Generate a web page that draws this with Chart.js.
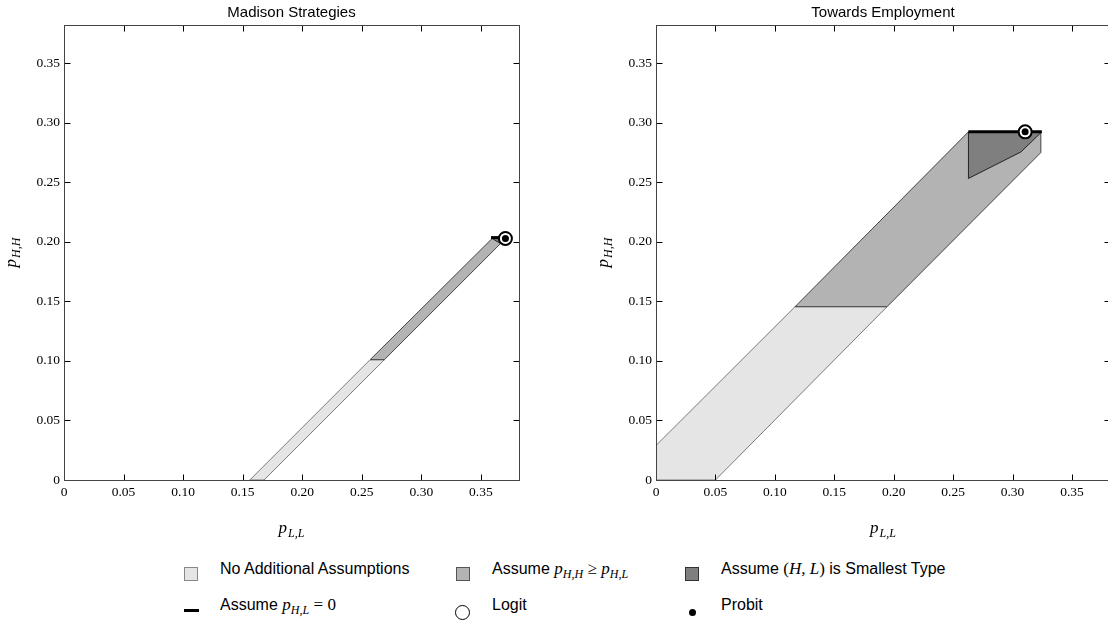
<!DOCTYPE html>
<html lang="en">
<head>
    <meta charset="UTF-8">
    <title>Madison Strategies / Towards Employment</title>
    <script src="https://cdn.jsdelivr.net/npm/chart.js"></script>
    <style>
        body { margin: 0; width: 1108px; height: 623px; overflow: hidden; background: #fff; position: relative; }
        canvas { position: absolute; top: 0; }
        #leftChart { left: 0; }
        #rightChart { left: 560px; }
        .lg { position: absolute; font-family: "Liberation Sans", Arial, sans-serif; font-size: 16px; color: #000; white-space: nowrap; line-height: 20px; }
        .m { font-family: "Liberation Serif", serif; font-style: italic; font-size: 17px; }
        .m sub { font-size: 12px; vertical-align: -4px; }
        .r { font-family: "Liberation Serif", serif; font-size: 17px; }
        .sw { position: absolute; width: 14px; height: 14px; box-sizing: border-box; border: 1px solid; }
    </style>
</head>
<body>
    <canvas id="leftChart" width="560" height="540"></canvas>
    <canvas id="rightChart" width="560" height="540"></canvas>

    <!-- legend -->
    <div class="sw" style="left:184px; top:567px; background:#e5e5e5; border-color:#888;"></div>
    <div class="lg" style="left:220px; top:559px;">No Additional Assumptions</div>
    <div class="sw" style="left:456px; top:567px; background:#b3b3b3; border-color:#555;"></div>
    <div class="lg" style="left:492px; top:559px;">Assume <span class="m">p<sub>H,H</sub></span> <span class="r">&ge;</span> <span class="m">p<sub>H,L</sub></span></div>
    <div class="sw" style="left:685px; top:567px; background:#7f7f7f; border-color:#333;"></div>
    <div class="lg" style="left:721px; top:559px;">Assume <span class="r">(</span><span class="m">H, L</span><span class="r">)</span> is Smallest Type</div>

    <div style="position:absolute; left:184px; top:609px; width:15px; height:3px; background:#000;"></div>
    <div class="lg" style="left:220px; top:595px;">Assume <span class="m">p<sub>H,L</sub></span> <span class="r">= 0</span></div>
    <div style="position:absolute; left:455px; top:605px; width:13px; height:13px; border:1.5px solid #000; border-radius:50%;"></div>
    <div class="lg" style="left:492px; top:595px;">Logit</div>
    <div style="position:absolute; left:689px; top:609px; width:7px; height:7px; background:#000; border-radius:50%;"></div>
    <div class="lg" style="left:721px; top:595px;">Probit</div>

    <script>
        // Axis ticks shared by both panels
        const tickValues = [0, 0.05, 0.10, 0.15, 0.20, 0.25, 0.30, 0.35];
        const tickLabels = ['0', '0.05', '0.10', '0.15', '0.20', '0.25', '0.30', '0.35'];
        const axisMax = 0.382;

        // Madison Strategies: identified sets (polygon vertices, p_LL and p_HH)
        const msNoAssumpX = [0.156, 0.168, 0.269, 0.257, 0.156];
        const msNoAssumpY = [0, 0, 0.101, 0.101, 0];
        const msMonoX = [0.257, 0.269, 0.3665, 0.3708, 0.3595, 0.257];
        const msMonoY = [0.101, 0.101, 0.1985, 0.2028, 0.2028, 0.101];
        const msSmallestX = [0.3595, 0.368, 0.3665, 0.3595];
        const msSmallestY = [0.2028, 0.2028, 0.1985, 0.2028];
        const msZeroX = [0.3585, 0.3675];
        const msZeroY = [0.2035, 0.2035];
        const msLogit = [0.3706, 0.2028];
        const msProbit = [0.3706, 0.2028];

        // Towards Employment
        const teNoAssumpX = [0, 0.05, 0.1944, 0.117, 0, 0];
        const teNoAssumpY = [0, 0, 0.1455, 0.1455, 0.029, 0];
        const teMonoX = [0.117, 0.1944, 0.3238, 0.3238, 0.2629, 0.117];
        const teMonoY = [0.1455, 0.1455, 0.2749, 0.2923, 0.2923, 0.1455];
        const teSmallestX = [0.2629, 0.3246, 0.307, 0.2629, 0.2629];
        const teSmallestY = [0.2923, 0.2923, 0.2754, 0.2532, 0.2923];
        const teZeroX = [0.2629, 0.3246];
        const teZeroY = [0.2923, 0.2923];
        const teLogit = [0.3106, 0.2923];
        const teProbit = [0.3106, 0.2923];

        const zip = (xs, ys) => xs.map((x, i) => ({ x: x, y: ys[i] }));

        function polygon(xs, ys, fill, stroke, order) {
            return {
                data: zip(xs, ys), showLine: true, fill: 'shape', tension: 0,
                backgroundColor: fill, borderColor: stroke, borderWidth: 1,
                pointRadius: 0, order: order
            };
        }

        function buildDatasets(s) {
            return [
                polygon(s.noX, s.noY, '#e5e5e5', '#7a7a7a', 6),
                polygon(s.monoX, s.monoY, '#b3b3b3', '#444', 5),
                polygon(s.smX, s.smY, '#7f7f7f', '#222', 4),
                { data: zip(s.zX, s.zY), showLine: true, borderColor: '#000', borderWidth: 3, pointRadius: 0, order: 3 },
                { data: [{ x: s.logit[0], y: s.logit[1] }], pointRadius: 6.5, pointBackgroundColor: '#fff',
                  pointBorderColor: '#000', pointBorderWidth: 2, order: 2 },
                { data: [{ x: s.probit[0], y: s.probit[1] }], pointRadius: 3.5, pointBackgroundColor: '#000',
                  pointBorderColor: '#000', pointBorderWidth: 0, order: 1 }
            ];
        }

        // draws p with a subscript, centred on cx
        function mathLabel(ctx, main, sub, cx, baseY) {
            ctx.font = 'italic 17px "Liberation Serif"';
            const w1 = ctx.measureText(main).width;
            ctx.font = 'italic 12px "Liberation Serif"';
            const w2 = ctx.measureText(sub).width;
            const x0 = cx - (w1 + w2 + 1) / 2;
            ctx.textAlign = 'left';
            ctx.textBaseline = 'alphabetic';
            ctx.font = 'italic 17px "Liberation Serif"';
            ctx.fillText(main, x0, baseY);
            ctx.font = 'italic 12px "Liberation Serif"';
            ctx.fillText(sub, x0 + w1 + 1, baseY + 4);
        }

        // frame, inward ticks, panel title and axis titles
        const framePlugin = {
            id: 'frame',
            afterDraw(chart, args, opts) {
                const ctx = chart.ctx;
                const a = chart.chartArea;
                const xs = chart.scales.x, ys = chart.scales.y;
                const L = Math.round(a.left) + 0.5, R = Math.round(a.right) + 0.5;
                const T = Math.round(a.top) + 0.5, B = Math.round(a.bottom) + 0.5;
                ctx.save();
                ctx.strokeStyle = '#000';
                ctx.lineWidth = 1;
                ctx.beginPath();
                tickValues.forEach(v => {
                    if (v === 0) return;
                    const px = Math.round(xs.getPixelForValue(v)) + 0.5;
                    const py = Math.round(ys.getPixelForValue(v)) + 0.5;
                    ctx.moveTo(px, B); ctx.lineTo(px, B - 6);
                    ctx.moveTo(px, T); ctx.lineTo(px, T + 6);
                    ctx.moveTo(L, py); ctx.lineTo(L + 6, py);
                    ctx.moveTo(R, py); ctx.lineTo(R - 6, py);
                });
                ctx.stroke();
                ctx.strokeStyle = '#444';
                ctx.strokeRect(L, T, R - L, B - T);

                ctx.fillStyle = '#000';
                ctx.font = '15px "Liberation Sans"';
                ctx.textAlign = 'center';
                ctx.textBaseline = 'alphabetic';
                ctx.fillText(opts.title, (a.left + a.right) / 2, 17);

                mathLabel(ctx, 'p', 'L,L', (a.left + a.right) / 2, 533);

                ctx.translate(a.left - 48, (a.top + a.bottom) / 2);
                ctx.rotate(-Math.PI / 2);
                mathLabel(ctx, 'p', 'H,H', 0, 0);
                ctx.restore();
            }
        };

        function axis(fitFn) {
            return {
                type: 'linear', min: 0, max: axisMax,
                grid: { display: false, drawTicks: false },
                border: { display: false },
                afterBuildTicks: s => { s.ticks = tickValues.map(v => ({ value: v })); },
                ticks: {
                    color: '#000', padding: 4,
                    font: { family: 'Liberation Serif', size: 13.5 },
                    callback: (v, i) => tickLabels[i]
                },
                afterFit: fitFn
            };
        }

        function makeChart(id, title, series, yAxisWidth, rightPad) {
            return new Chart(document.getElementById(id), {
                type: 'scatter',
                data: { datasets: buildDatasets(series) },
                options: {
                    responsive: false,
                    animation: false,
                    events: [],
                    layout: { padding: { left: 0, right: rightPad, top: 25, bottom: 0 } },
                    plugins: {
                        legend: { display: false },
                        tooltip: { enabled: false },
                        frame: { title: title }
                    },
                    scales: {
                        x: axis(s => { s.height = 60; }),
                        y: axis(s => { s.width = yAxisWidth; })
                    }
                },
                plugins: [framePlugin]
            });
        }

        makeChart('leftChart', 'Madison Strategies', {
            noX: msNoAssumpX, noY: msNoAssumpY, monoX: msMonoX, monoY: msMonoY,
            smX: msSmallestX, smY: msSmallestY, zX: msZeroX, zY: msZeroY,
            logit: msLogit, probit: msProbit
        }, 64, 41);

        makeChart('rightChart', 'Towards Employment', {
            noX: teNoAssumpX, noY: teNoAssumpY, monoX: teMonoX, monoY: teMonoY,
            smX: teSmallestX, smY: teSmallestY, zX: teZeroX, zY: teZeroY,
            logit: teLogit, probit: teProbit
        }, 96, 10);
    </script>
</body>
</html>
